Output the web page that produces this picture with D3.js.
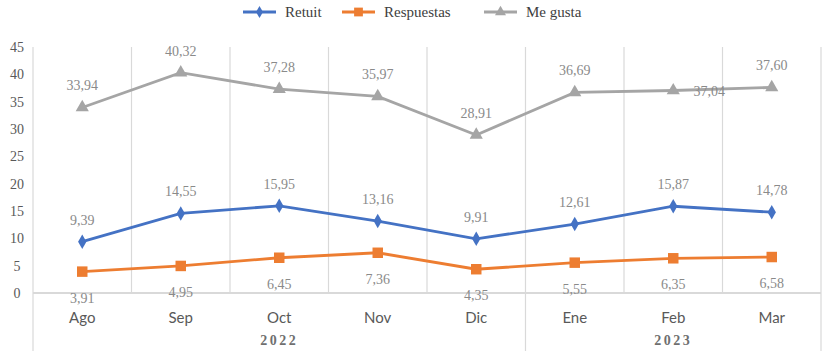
<!DOCTYPE html>
<html>
<head>
<meta charset="utf-8">
<script src="https://cdn.jsdelivr.net/npm/d3@7"></script>
<style>
  body { margin: 0; background: #fff; }
  svg { display: block; }
</style>
</head>
<body>
<div id="chart"></div>
<script>
// datos
const meses = ['Ago', 'Sep', 'Oct', 'Nov', 'Dic', 'Ene', 'Feb', 'Mar'];
const anios = [{ label: '2022', from: 0, to: 4 }, { label: '2023', from: 5, to: 7 }];
const retuit = [9.39, 14.55, 15.95, 13.16, 9.91, 12.61, 15.87, 14.78];
const respuestas = [3.91, 4.95, 6.45, 7.36, 4.35, 5.55, 6.35, 6.58];
const meGusta = [33.94, 40.32, 37.28, 35.97, 28.91, 36.69, 37.04, 37.60];
const yTicks = [0, 5, 10, 15, 20, 25, 30, 35, 40, 45];

const W = 827, H = 351;
const mLeft = 33, mRight = 821, mTop = 47, mBottom = 293;

const svg = d3.select('#chart').append('svg')
    .attr('width', W)
    .attr('height', H);

const x = d3.scaleBand().domain(meses).range([mLeft, mRight]);
const y = d3.scaleLinear().domain([0, 45]).range([mBottom, mTop]);

const serif = '"Liberation Serif", "Times New Roman", serif';
const sans = 'Lato, "Open Sans", sans-serif';
const gridColor = '#d9d9d9';
const labelColor = '#8a8a8a';

// líneas verticales entre categorías
const bounds = meses.map(m => x(m)).concat([mRight]);
svg.append('g').selectAll('line')
    .data(bounds)
    .enter()
    .append('line')
    .attr('x1', d => d).attr('x2', d => d)
    .attr('y1', mTop)
    .attr('y2', (d, i) => (i === 0 || i === 5 || i === bounds.length - 1) ? H : mBottom)
    .attr('stroke', gridColor)
    .attr('stroke-width', 1.2);

// eje horizontal
svg.append('line')
    .attr('x1', mLeft).attr('x2', mRight)
    .attr('y1', y(0)).attr('y2', y(0))
    .attr('stroke', gridColor)
    .attr('stroke-width', 2);

// eje Y (sin línea)
const yAxis = svg.append('g')
    .attr('transform', `translate(${mLeft},0)`)
    .call(d3.axisLeft(y).tickValues(yTicks).tickSize(0).tickPadding(12));
yAxis.select('.domain').remove();
yAxis.selectAll('text')
    .attr('text-anchor', 'middle')
    .attr('dx', '-4')
    .style('font-family', serif)
    .style('font-size', '14px')
    .style('fill', '#595959');

// etiquetas de meses
svg.append('g').selectAll('text')
    .data(meses)
    .enter()
    .append('text')
    .attr('x', d => x(d) + x.bandwidth() / 2)
    .attr('y', 323)
    .attr('text-anchor', 'middle')
    .style('font-family', sans)
    .style('font-size', '15px')
    .style('fill', '#595959')
    .text(d => d);

// etiquetas de años
svg.append('g').selectAll('text')
    .data(anios)
    .enter()
    .append('text')
    .attr('x', d => (x(meses[d.from]) + x(meses[d.to]) + x.bandwidth()) / 2)
    .attr('y', 345)
    .attr('text-anchor', 'middle')
    .style('font-family', serif)
    .style('font-size', '14px')
    .style('font-weight', 'bold')
    .style('letter-spacing', '2.5px')
    .style('fill', '#6f6f6f')
    .text(d => d.label);

const cx = (d, i) => x(meses[i]) + x.bandwidth() / 2;
const line = d3.line().x(cx).y(d => y(d));
const fmt = v => v.toFixed(2).replace('.', ',');

const series = [
    { name: 'Retuit', values: retuit, color: '#4472c4', symbol: d3.symbolDiamond, size: 60, labelDy: -17 },
    { name: 'Respuestas', values: respuestas, color: '#ed7d31', symbol: d3.symbolSquare, size: 110, labelDy: 31 },
    { name: 'Me gusta', values: meGusta, color: '#a5a5a5', symbol: d3.symbolTriangle, size: 75, labelDy: -17 }
];

series.forEach(s => {
    const g = svg.append('g');
    g.append('path')
        .datum(s.values)
        .attr('d', line)
        .attr('fill', 'none')
        .attr('stroke', s.color)
        .attr('stroke-width', 2.8);
    g.selectAll('path.m')
        .data(s.values)
        .enter()
        .append('path')
        .attr('class', 'm')
        .attr('transform', (d, i) => `translate(${cx(d, i)},${y(d)})`)
        .attr('d', d3.symbol().type(s.symbol).size(s.size))
        .attr('fill', s.color);
    g.selectAll('text')
        .data(s.values)
        .enter()
        .append('text')
        .attr('x', (d, i) => (s.name === 'Me gusta' && i === 6) ? cx(d, i) + 36 : cx(d, i))
        .attr('y', (d, i) => (s.name === 'Me gusta' && i === 6) ? y(d) + 5 : y(d) + s.labelDy)
        .attr('text-anchor', 'middle')
        .style('font-family', serif)
        .style('font-size', '14px')
        .style('fill', labelColor)
        .text(d => fmt(d));
});

// leyenda
const legend = svg.append('g');
const items = [
    { s: series[0], x: 243 },
    { s: series[1], x: 342 },
    { s: series[2], x: 484 }
];
items.forEach(it => {
    const lg = legend.append('g').attr('transform', `translate(${it.x},12)`);
    lg.append('line')
        .attr('x1', 0).attr('x2', 33)
        .attr('stroke', it.s.color)
        .attr('stroke-width', 3);
    lg.append('path')
        .attr('transform', 'translate(16.5,0)')
        .attr('d', d3.symbol().type(it.s.symbol).size(it.s.size * 0.7))
        .attr('fill', it.s.color);
    lg.append('text')
        .attr('x', 42)
        .attr('y', 5)
        .style('font-family', serif)
        .style('font-size', '15px')
        .style('fill', '#404040')
        .text(it.s.name);
});
</script>
</body>
</html>
